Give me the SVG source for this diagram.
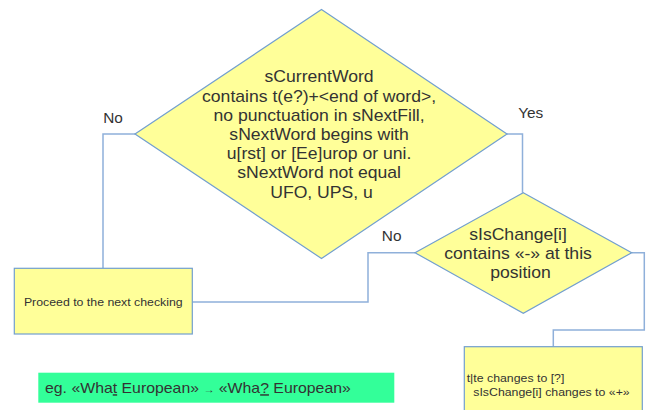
<svg xmlns="http://www.w3.org/2000/svg" width="651" height="410" viewBox="0 0 651 410">
  <style>
    .shape { fill: #ffff99; stroke: #729fcf; stroke-width: 1.2; }
    .conn { fill: none; stroke: #8fb0da; stroke-width: 1.5; }
    text { font-family: "Liberation Sans", Arial, sans-serif; fill: #333333; }
    .big { font-size: 16px; }
    .lbl { font-size: 14px; }
    .small { font-size: 11.2px; }
    .note { font-size: 14.4px; }
    .u { text-decoration: underline; }
  </style>

  <rect width="651" height="410" fill="#ffffff"/>

  <!-- connectors -->
  <g id="connectors">
    <path class="conn" d="M135,134 H103 V268"/>
    <path class="conn" d="M507,134 H522.5 V192.7"/>
    <path class="conn" d="M415,252.7 H368 V302 H192.3"/>
    <path class="conn" d="M631.7,252.7 H644.3 V330 H553.3 V346.7"/>
  </g>

  <!-- main decision -->
  <g id="decision-main">
    <polygon class="shape" points="321.5,9.5 507,134 321.5,258.5 135,134"/>
    <text class="big" text-anchor="middle" transform="translate(321.5 0) scale(1.1 1)">
      <tspan x="0" y="82.5">sCurrentWord</tspan>
      <tspan x="0" y="101.7">contains t(e?)+&lt;end of word&gt;,</tspan>
      <tspan x="0" y="120.9">no punctuation in sNextFill,</tspan>
      <tspan x="0" y="140.1">sNextWord begins with</tspan>
      <tspan x="0" y="159.3">u[rst] or [Ee]urop or uni.</tspan>
      <tspan x="0" y="178.5">sNextWord not equal</tspan>
      <tspan x="0" y="197.7">UFO, UPS, u</tspan>
    </text>
  </g>

  <!-- branch labels -->
  <g id="label-no-main">
    <text class="lbl" text-anchor="middle" transform="translate(113 0) scale(1.1 1)" x="0" y="122.7">No</text>
  </g>
  <g id="label-yes">
    <text class="lbl" text-anchor="middle" transform="translate(530.7 0) scale(1.1 1)" x="0" y="117.7">Yes</text>
  </g>
  <g id="label-no-change">
    <text class="lbl" text-anchor="middle" transform="translate(391.7 0) scale(1.1 1)" x="0" y="241.5">No</text>
  </g>

  <!-- second decision -->
  <g id="decision-change">
    <polygon class="shape" points="523.3,192.7 631.7,252.7 523.3,313.3 415,252.7"/>
    <text class="big" text-anchor="middle" transform="translate(520.5 0) scale(1.1 1)">
      <tspan x="0" y="240">sIsChange[i]</tspan>
      <tspan x="0" y="259">contains «-» at this</tspan>
      <tspan x="0" y="278">position</tspan>
    </text>
  </g>

  <!-- fallback step -->
  <g id="step-next">
    <rect class="shape" x="14.3" y="268.3" width="178" height="65.7"/>
    <text class="small" text-anchor="middle" transform="translate(103.3 0) scale(1.1 1)" x="0" y="306">Proceed to the next checking</text>
  </g>

  <!-- replacement step -->
  <g id="step-replace">
    <rect class="shape" x="464.3" y="346.7" width="178" height="70"/>
    <text class="small" transform="translate(466.7 0) scale(1.1 1)">
      <tspan x="0" y="382">t|te changes to [?]</tspan>
      <tspan x="6" y="396.5">sIsChange[i] changes to «+»</tspan>
    </text>
  </g>

  <!-- example note -->
  <g id="example">
    <rect x="38.3" y="372.7" width="356" height="30" fill="#33ff99"/>
    <text class="note" transform="translate(45 0) scale(1.1 1)" x="0" y="393.3">eg. «Wha<tspan class="u">t</tspan> European» <tspan font-size="10">→</tspan> «Wha<tspan class="u">?</tspan> European»</text>
  </g>
</svg>
